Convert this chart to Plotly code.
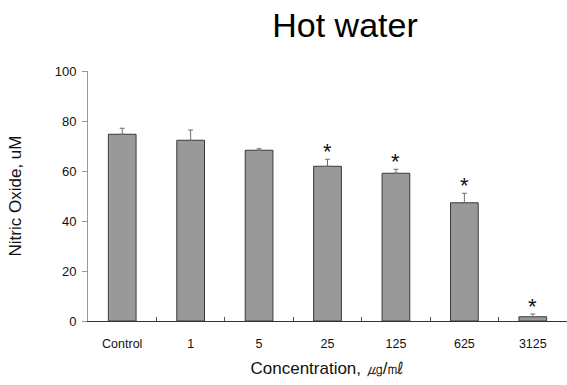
import plotly.graph_objects as go

categories = ["Control", "1", "5", "25", "125", "625", "3125"]
values = [74.7, 72.3, 68.3, 61.9, 59.1, 47.3, 1.7]
errors = [2.4, 4.1, 0.6, 2.8, 1.6, 3.8, 1.1]
significant = [False, False, False, True, True, True, True]
y_ticks = [0, 20, 40, 60, 80, 100]

FONT = "Liberation Sans, Arial, sans-serif"

fig = go.Figure()
fig.add_trace(go.Bar(
    x=categories,
    y=values,
    width=0.405,
    marker=dict(color="#999999", line=dict(color="#3a3a3a", width=1)),
    error_y=dict(type="data", array=errors, arrayminus=[0] * len(errors),
                 symmetric=False, color="#6e6e6e", thickness=1, width=2.5),
    hoverinfo="skip",
))

for i, (v, e, s) in enumerate(zip(values, errors, significant)):
    if s:
        fig.add_annotation(x=i, y=v + e, xref="x", yref="y", text="*",
                           showarrow=False, yanchor="bottom", yshift=-7,
                           font=dict(family=FONT, size=22, color="#111111"))

fig.update_layout(
    width=567, height=385,
    margin=dict(l=88, r=0, t=71, b=64),
    paper_bgcolor="white", plot_bgcolor="white",
    showlegend=False,
    font=dict(family=FONT, color="#111111"),
    title=dict(text="Hot water", x=345 / 567, xref="container", xanchor="center",
               y=1 - 25 / 385, yref="container", yanchor="middle",
               font=dict(family=FONT, size=34, color="#000000")),
)
fig.update_xaxes(
    type="category", categoryorder="array", categoryarray=categories,
    range=[-0.5, len(categories) - 0.5],
    showline=True, linecolor="#333333", linewidth=1,
    ticks="inside", tickson="boundaries", ticklen=4, tickcolor="#555555",
    ticklabelstandoff=11,
    tickfont=dict(size=12.5, color="#111111"),
    title=dict(text="Concentration, ㎍/㎖", font=dict(size=17, color="#111111"), standoff=12),
    showgrid=False, zeroline=False,
)
fig.update_yaxes(
    range=[0, 100], tickvals=y_ticks,
    showline=True, linecolor="#999999", linewidth=1,
    ticks="outside", ticklen=5, tickcolor="#999999",
    ticklabelstandoff=3,
    tickfont=dict(size=13, color="#111111"),
    title=dict(text="Nitric Oxide, uM", font=dict(size=17, color="#111111"), standoff=28),
    showgrid=False, zeroline=False,
)

fig.write_html("out.html")
